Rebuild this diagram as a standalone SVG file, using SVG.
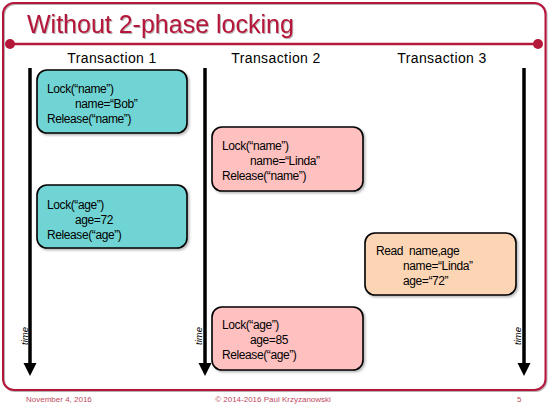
<svg xmlns="http://www.w3.org/2000/svg" width="548" height="405" viewBox="0 0 548 405">
<defs>
<style>
.t{font-family:"Liberation Sans",Arial,sans-serif;fill:#000}
.bt{font-family:"Liberation Sans",Arial,sans-serif;font-size:12px;letter-spacing:-0.4px;fill:#000}
.hdr{font-family:"Liberation Sans",Arial,sans-serif;font-size:14px;letter-spacing:0.4px;fill:#000;text-anchor:middle}
.time{font-family:"Liberation Sans",Arial,sans-serif;font-size:9.5px;font-style:italic;fill:#000;text-anchor:middle}
.foot{font-family:"Liberation Sans",Arial,sans-serif;font-size:8px;fill:#c24a62}
.box{stroke:#000;stroke-width:1.6;filter:url(#sh)}
.tl{stroke:#000;stroke-width:3.5}
</style>
<filter id="sh" x="-10%" y="-10%" width="130%" height="130%">
<feDropShadow dx="1.5" dy="1.5" stdDeviation="1" flood-color="#000" flood-opacity="0.3"/>
</filter>
<filter id="tsh" x="-5%" y="-20%" width="110%" height="150%">
<feDropShadow dx="1" dy="1" stdDeviation="0.6" flood-color="#000" flood-opacity="0.3"/>
</filter>
<marker id="ah" markerUnits="userSpaceOnUse" markerWidth="14" markerHeight="14" refX="0" refY="6.5" orient="auto" viewBox="0 0 14 13">
<path d="M0,0 L13,6.5 L0,13 Z" fill="#000"/>
</marker>
</defs>
<rect width="548" height="405" fill="#fff"/>
<g id="frame">
<rect x="3" y="3" width="542.5" height="387" rx="11" fill="none" stroke="#b5193a" stroke-width="2" filter="url(#tsh)"/>
<line x1="10" y1="44" x2="538" y2="44" stroke="#b5193a" stroke-width="2.5"/>
<circle cx="10" cy="44" r="5" fill="#b5193a"/>
<circle cx="538" cy="44" r="5" fill="#b5193a"/>
<text x="27" y="33" font-family="'Liberation Sans',Arial,sans-serif" font-size="25" fill="#b5193a" filter="url(#tsh)">Without 2-phase locking</text>
</g>
<g id="headers">
<text class="hdr" x="112" y="63">Transaction 1</text>
<text class="hdr" x="276" y="63">Transaction 2</text>
<text class="hdr" x="442" y="63">Transaction 3</text>
</g>
<g id="connectors">
<line class="tl" x1="30" y1="68" x2="30" y2="363" marker-end="url(#ah)"/>
<line class="tl" x1="205" y1="68" x2="205" y2="363" marker-end="url(#ah)"/>
<line class="tl" x1="524" y1="68" x2="524" y2="363" marker-end="url(#ah)"/>
<text class="time" transform="translate(27.5,336) rotate(-90)">time</text>
<text class="time" transform="translate(202,336) rotate(-90)">time</text>
<text class="time" transform="translate(521,336) rotate(-90)">time</text>
</g>
<g id="t1-name">
<rect class="box" x="37" y="70" width="150" height="63" rx="10" fill="#70d4d4"/>
<text class="bt" x="47" y="93">Lock(“name”)</text>
<text class="bt" x="75" y="108">name=“Bob”</text>
<text class="bt" x="47" y="122.5">Release(“name”)</text>
</g>
<g id="t1-age">
<rect class="box" x="37" y="185" width="150" height="63" rx="10" fill="#70d4d4"/>
<text class="bt" x="47" y="209">Lock(“age”)</text>
<text class="bt" x="75" y="224">age=72</text>
<text class="bt" x="47" y="238.5">Release(“age”)</text>
</g>
<g id="t2-name">
<rect class="box" x="212" y="127" width="151" height="64" rx="10" fill="#ffc0c0"/>
<text class="bt" x="222" y="150">Lock(“name”)</text>
<text class="bt" x="250" y="165">name=“Linda”</text>
<text class="bt" x="222" y="180">Release(“name”)</text>
</g>
<g id="t3-read">
<rect class="box" x="365" y="233" width="151" height="62" rx="10" fill="#fcd5b5"/>
<text class="bt" x="376" y="255">Read<tspan x="409">name,age</tspan></text>
<text class="bt" x="403" y="270">name=“Linda”</text>
<text class="bt" x="403" y="284.5">age=“72”</text>
</g>
<g id="t2-age">
<rect class="box" x="212" y="307" width="151" height="63" rx="10" fill="#ffc0c0"/>
<text class="bt" x="222" y="329">Lock(“age”)</text>
<text class="bt" x="250" y="344">age=85</text>
<text class="bt" x="222" y="358.5">Release(“age”)</text>
</g>
<g id="footer">
<text class="foot" x="26" y="402">November 4, 2016</text>
<text class="foot" x="273" y="402" text-anchor="middle">© 2014-2016 Paul Krzyzanowski</text>
<text class="foot" x="517" y="402">5</text>
</g>
</svg>
